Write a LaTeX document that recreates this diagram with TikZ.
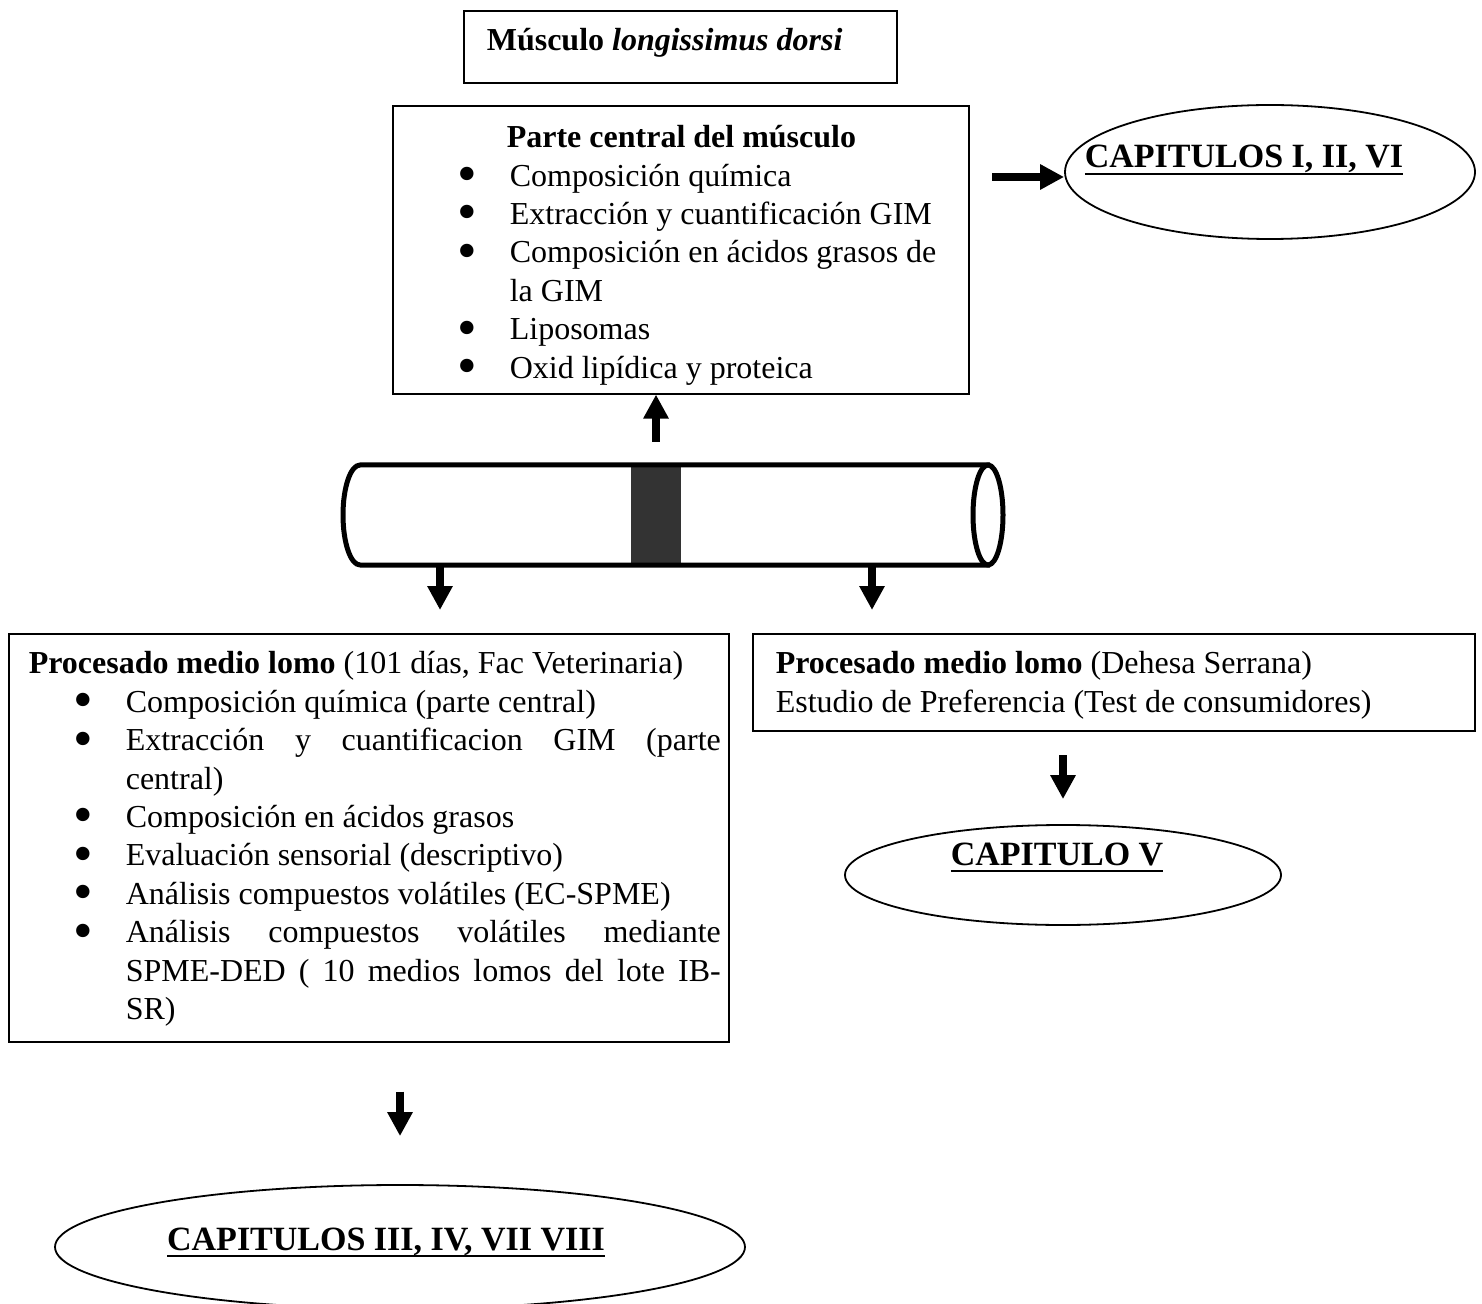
\documentclass[tikz,border=0pt]{standalone}
\usepackage{fontspec}
\setmainfont{Liberation Serif}
\usepackage{graphicx}
\usetikzlibrary{calc,arrows.meta,positioning,shapes.geometric}

\definecolor{banda}{HTML}{333333}
\tolerance=10000
\hbadness=10000
\newcommand{\topgap}[1]{\rule{0pt}{#1}}
\newcommand{\botgap}[1]{\rule[-#1]{0pt}{#1}\par}
\newcommand{\vineta}{\par\leftskip=58.5pt\rightskip=4pt\noindent\llap{\smash{\raisebox{-3.2pt}{\scalebox{1.75}{\textbullet}}}\hspace{16.1pt}}}
\newcommand{\subrayado}[1]{\setbox0\hbox{#1}\rlap{\rule[-3.5pt]{\wd0}{1.2pt}}\box0}
\newcommand{\capitulo}[3]{\rule[-#2]{0pt}{\dimexpr 12pt+#2\relax}\makebox[0pt]{\hspace{-#3}\subrayado{#1}}}

\begin{document}
\begin{tikzpicture}[x=0.5pt,y=0.5pt,yscale=-1,
  caja/.style = {draw, line width=0.8pt, inner sep=0pt, anchor=north west,
  align=justify, font=\fontsize{16pt}{19.2pt}\selectfont},
  elipse/.style = {draw, ellipse, line width=0.9pt, inner sep=0pt,
  font=\fontsize{17pt}{19.2pt}\selectfont\bfseries},
  tubo/.style = {line width=2.5pt, line join=round},
  flecha/.style = {line width=4pt, -{Triangle[length=12pt,width=12pt]}}]
  \useasboundingbox (0,0) rectangle (1482,1304);

  \node[caja, text width=216.5pt] (musculo) at (463,10)
    {\topgap{20pt}\hspace{11.5pt}\textbf{Músculo \textit{longissimus dorsi}}\botgap{16pt}};
  \node[caja, text width=288pt] (central) at (392,105)
    {\topgap{21pt}\hspace{57pt}\textbf{Parte central del músculo}
    \vineta Composición química
    \vineta Extracción y cuantificación GIM
    \vineta Composición en ácidos grasos de\newline la GIM
    \vineta Liposomas
    \vineta Oxid lipídica y proteica\botgap{7.8pt}};
  \node[elipse, minimum width=205pt, minimum height=67pt] (cap1) at (1270,172)
    {\capitulo{CAPITULOS I, II, VI}{16pt}{26pt}};

  % tubo del lomo
  \fill[banda] (631,465) rectangle (681,565);
  \draw[tubo] (990,465) -- (360,465) arc[start angle=270, end angle=90, x radius=17, y radius=50] -- (990,565);
  \draw[tubo] (988,515) ellipse [x radius=15, y radius=50];
  \coordinate (pie) at (656,442);
  \coordinate (ini) at (992,177);
  \coordinate (baja1) at (440,565);
  \coordinate (baja2) at (872,565);

  \node[caja, text width=360pt] (procvet) at (8,633)
    {\topgap{20pt}\hspace{10pt}\mbox{\textbf{Procesado medio lomo} (101 días, Fac Veterinaria)}
    \vineta Composición química (parte central)
    \vineta Extracción y cuantificacion GIM (parte\linebreak central)
    \vineta Composición en ácidos grasos
    \vineta Evaluación sensorial (descriptivo)
    \vineta Análisis compuestos volátiles (EC-SPME)
    \vineta Análisis compuestos volátiles mediante\linebreak SPME-DED ( 10 medios lomos del lote IB-\linebreak SR)\botgap{11.2pt}};
  \node[caja, text width=361pt] (dehesa) at (752,633)
    {\topgap{20pt}\hspace{11.5pt}\textbf{Procesado medio lomo} (Dehesa Serrana)\newline
    \hspace*{11.5pt}Estudio de Preferencia (Test de consumidores)\botgap{9.5pt}};
  \node[elipse, minimum width=218pt, minimum height=50pt] (capV) at (1063,875)
    {\capitulo{CAPITULO V}{22pt}{6pt}};
  \node[elipse, minimum width=345pt, minimum height=62pt] (capIII) at (400,1247)
    {\capitulo{CAPITULOS III, IV, VII VIII}{9pt}{14pt}};

  \draw[flecha] (pie) -- (pie |- central.south);
  \draw[flecha] (ini) -- (ini -| cap1.west);
  \draw[flecha, shorten >=11.5pt] (baja1) -- (baja1 |- procvet.north);
  \draw[flecha, shorten >=11.5pt] (baja2) -- (baja2 |- dehesa.north);
  \draw[flecha, shorten <=11.5pt, shorten >=12.5pt] (capV.north |- dehesa.south) -- (capV.north);
  \draw[flecha, shorten <=24.5pt, shorten >=24pt] (capIII.north |- procvet.south) -- (capIII.north);
\end{tikzpicture}
\end{document}
